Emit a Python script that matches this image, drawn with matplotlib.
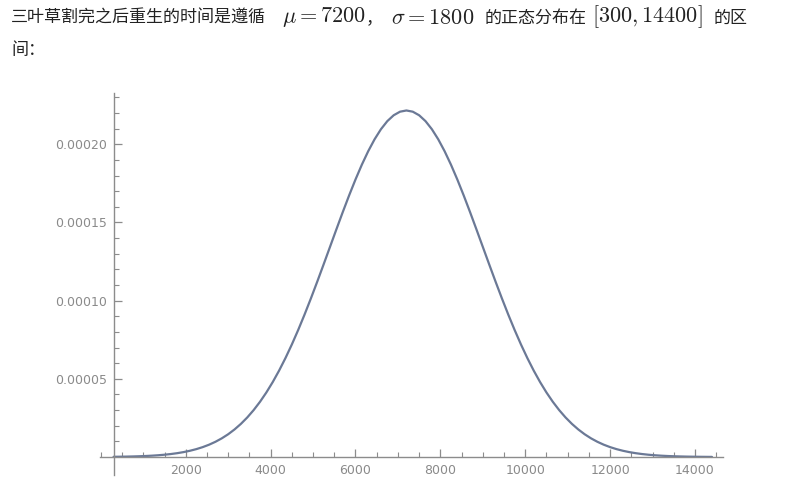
import matplotlib

matplotlib.use("Agg")
import matplotlib.pyplot as plt  # noqa: E402
from matplotlib.ticker import FixedLocator, MultipleLocator, FuncFormatter  # noqa: E402

# regrowth time grid (s), read every 150 s along the curve
time_s = list(range(300, 14401, 150))
# density, in units of 1e-4
density_e4 = [
    0.00143, 0.00196, 0.00267, 0.00361, 0.00485, 0.00647, 0.00857, 0.01127,
    0.01473, 0.01911, 0.02462, 0.03150, 0.04003, 0.05052, 0.06331, 0.07879,
    0.09738, 0.11952, 0.14561, 0.17633, 0.21197, 0.25302, 0.29995, 0.35311,
    0.41283, 0.47931, 0.55264, 0.63278, 0.71952, 0.81250, 0.91114, 1.01469,
    1.1222, 1.2325, 1.3442, 1.4560, 1.5662, 1.6730, 1.7747, 1.8696,
    1.9559, 2.0320, 2.0965, 2.1481, 2.1857, 2.2086, 2.2163,
    2.2086, 2.1857, 2.1481, 2.0965, 2.0320, 1.9559, 1.8696, 1.7747,
    1.6730, 1.5662, 1.4560, 1.3442, 1.2325, 1.1222, 1.01469, 0.91114,
    0.81250, 0.71952, 0.63278, 0.55264, 0.47931, 0.41283, 0.35311, 0.29995,
    0.25302, 0.21197, 0.17633, 0.14561, 0.11952, 0.09738, 0.07879, 0.06331,
    0.05052, 0.04003, 0.03150, 0.02462, 0.01911, 0.01473, 0.01127, 0.00857,
    0.00647, 0.00485, 0.00361, 0.00267, 0.00196, 0.00143, 0.00103, 0.00074,
]
density = [v * 1e-4 for v in density_e4]

x_ticks = [2000, 4000, 6000, 8000, 10000, 12000, 14000]
y_ticks = [0.00005, 0.00010, 0.00015, 0.00020]

CJK = ["Noto Sans CJK SC", "DejaVu Sans"]
TEXT = "#222222"
AXIS = "#8c8c8c"
CURVE = "#6b7996"

plt.rcParams["mathtext.fontset"] = "cm"

fig = plt.figure(figsize=(8, 4.97), dpi=100)
W, H = 800, 497


def put(px, py, s, size, family=CJK):
    fig.text(px / W, 1 - py / H, s, fontsize=size, color=TEXT,
             family=family, va="center", ha="left")


# caption above the plot, pieces placed along the line
put(11, 18, "三叶草割完之后重生的时间是遵循", 12.25)
put(282, 17, r"$\mu = 7200$", 16)
put(366, 18, "，", 12.25)
put(391, 17, r"$\sigma = 1800$", 16)
put(485, 18, "的正态分布在", 12.25)
put(592, 17, r"$[300, 14400]$", 16)
put(714, 18, "的区", 12.25)
put(11, 50, "间：", 12.25)

ax = fig.add_axes([100 / W, 22 / H, 623 / W, (475 - 92.7) / H])
ax.plot(time_s, density, color=CURVE, linewidth=1.6, solid_capstyle="round")

ax.set_xlim(-20, 14660)
ax.set_ylim(-0.0000115, 0.000233)

ax.spines["left"].set_position(("data", 300))
ax.spines["bottom"].set_position(("data", 0))
ax.spines["top"].set_visible(False)
ax.spines["right"].set_visible(False)
for side in ("left", "bottom"):
    ax.spines[side].set_color(AXIS)
    ax.spines[side].set_linewidth(1.0)

ax.xaxis.set_major_locator(FixedLocator(x_ticks))
ax.xaxis.set_minor_locator(MultipleLocator(500))
ax.yaxis.set_major_locator(FixedLocator(y_ticks))
ax.yaxis.set_minor_locator(FixedLocator([i * 0.00001 for i in range(1, 24)]))
ax.yaxis.set_major_formatter(FuncFormatter(lambda v, _: f"{v:.5f}"))
ax.xaxis.set_major_formatter(FuncFormatter(lambda v, _: f"{int(v)}"))

ax.tick_params(which="major", direction="in", length=6, width=0.9,
               color=AXIS, labelcolor="#8a8a8a", labelsize=9, pad=5)
ax.tick_params(which="minor", direction="in", length=3.5, width=0.8, color=AXIS)
ax.patch.set_alpha(0)

fig.savefig("out.png", dpi=100, facecolor="white")
